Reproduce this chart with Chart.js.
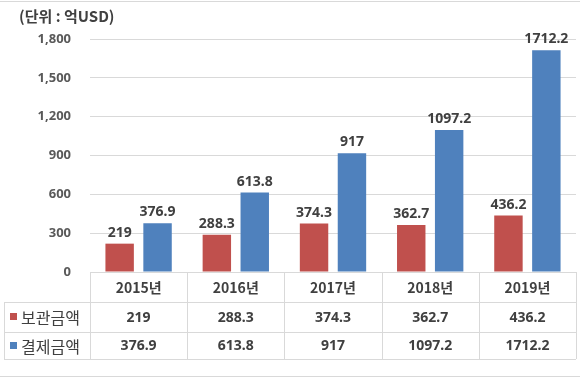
<!DOCTYPE html>
<html><head><meta charset="utf-8">
<script src="https://cdn.jsdelivr.net/npm/chart.js@4"></script>
<style>html,body{margin:0;padding:0;background:#fff}#wrap{width:580px;height:380px}</style>
</head><body><div id="wrap"><canvas id="c" width="580" height="380"></canvas></div>
<script>
const categories = ['2015년','2016년','2017년','2018년','2019년'];
const storageAmount = [219, 288.3, 374.3, 362.7, 436.2];
const settlementAmount = [376.9, 613.8, 917, 1097.2, 1712.2];
const seriesNames = ['보관금액','결제금액'];
const unitLabel = '(단위 : 억USD)';
const yMin = 0, yMax = 1800, yStep = 300;

const RED = '#C0504D', BLUE = '#4F81BD';
const TEXT = '#404040', LINE = '#D9D9D9';
const NUMFONT = "bold 14px 'Noto Sans', 'Noto Sans CJK KR', sans-serif";
const KRFONT = "bold 14px 'Noto Sans CJK KR', 'Noto Sans', sans-serif";

function fmt(v){ return String(v); }

const tablePlugin = {
  id: 'tablePlugin',
  afterDraw(chart){
    const ctx = chart.ctx;
    const ca = chart.chartArea;
    const xs = chart.scales.x;
    const n = categories.length;
    const colW = (ca.right - ca.left) / n;
    ctx.save();
    ctx.strokeStyle = LINE; ctx.lineWidth = 1;
    ctx.beginPath();
    ctx.moveTo(0, 1.5); ctx.lineTo(580, 1.5);
    ctx.moveTo(0, 376.5); ctx.lineTo(580, 376.5);
    ctx.stroke();
    ctx.fillStyle = TEXT;
    ctx.font = "bold 15px 'Noto Sans CJK KR', 'Noto Sans', sans-serif";
    ctx.textAlign = 'left'; ctx.textBaseline = 'middle';
    ctx.fillText(unitLabel, 19, 16);

    ctx.font = NUMFONT; ctx.textAlign = 'center'; ctx.textBaseline = 'alphabetic';
    chart.data.datasets.forEach((ds, di) => {
      const meta = chart.getDatasetMeta(di);
      meta.data.forEach((bar, i) => {
        ctx.fillStyle = TEXT;
        ctx.fillText(fmt(ds.data[i]), bar.x, bar.y - 7);
      });
    });

    const top = ca.bottom;
    const rowH = [30, 30, 27];
    const y0 = top, y1 = top + rowH[0], y2 = y1 + rowH[1], y3 = y2 + rowH[2];
    const left = 4;
    ctx.strokeStyle = LINE; ctx.lineWidth = 1;
    ctx.beginPath();
    ctx.moveTo(ca.left, Math.round(y0) + 0.5); ctx.lineTo(ca.right, Math.round(y0) + 0.5);
    [y1, y2, y3].forEach(y => { ctx.moveTo(left, Math.round(y) + 0.5); ctx.lineTo(ca.right, Math.round(y) + 0.5); });
    ctx.moveTo(left + 0.5, y1); ctx.lineTo(left + 0.5, y3);
    for (let i = 0; i <= n; i++) {
      const x = Math.round(ca.left + i * colW) + 0.5;
      ctx.moveTo(x, y0); ctx.lineTo(x, y3);
    }
    ctx.stroke();

    ctx.fillStyle = TEXT; ctx.textAlign = 'center'; ctx.textBaseline = 'middle';
    categories.forEach((c, i) => {
      const cx = xs.getPixelForValue(i);
      ctx.font = KRFONT;
      ctx.fillText(c, cx, (y0 + y1) / 2 + 1);
      ctx.font = NUMFONT;
      ctx.fillText(fmt(storageAmount[i]), cx, (y1 + y2) / 2 + 1);
      ctx.fillText(fmt(settlementAmount[i]), cx, (y2 + y3) / 2 + 1);
    });
    const legendRows = [[seriesNames[0], RED, (y1 + y2) / 2], [seriesNames[1], BLUE, (y2 + y3) / 2]];
    legendRows.forEach(([name, col, cy]) => {
      ctx.fillStyle = col;
      ctx.fillRect(10, Math.round(cy) - 4, 7, 7);
      ctx.fillStyle = TEXT;
      ctx.font = "16px 'Noto Sans CJK KR', sans-serif";
      ctx.textAlign = 'left';
      ctx.fillText(name, 21, cy + 1);
    });
    ctx.restore();
  }
};

new Chart(document.getElementById('c'), {
  type: 'bar',
  data: {
    labels: categories,
    datasets: [
      { label: seriesNames[0], data: storageAmount, backgroundColor: RED, barPercentage: 0.75, categoryPercentage: 0.78 },
      { label: seriesNames[1], data: settlementAmount, backgroundColor: BLUE, barPercentage: 0.75, categoryPercentage: 0.78 }
    ]
  },
  options: {
    responsive: false,
    animation: false,
    devicePixelRatio: 1,
    locale: 'en-US',
    layout: { padding: { left: 0, right: 4, top: 39, bottom: 108 } },
    plugins: { legend: { display: false }, title: { display: false }, tooltip: { enabled: false } },
    scales: {
      x: { display: false },
      y: {
        min: yMin, max: yMax,
        afterFit(s){ s.width = 90; },
        ticks: { stepSize: yStep, padding: 19, color: '#595959', font: { family: "'Noto Sans', sans-serif", size: 13, weight: 'bold' } },
        grid: { color: LINE, drawTicks: false },
        border: { display: false }
      }
    }
  },
  plugins: [tablePlugin]
});
</script></body></html>
